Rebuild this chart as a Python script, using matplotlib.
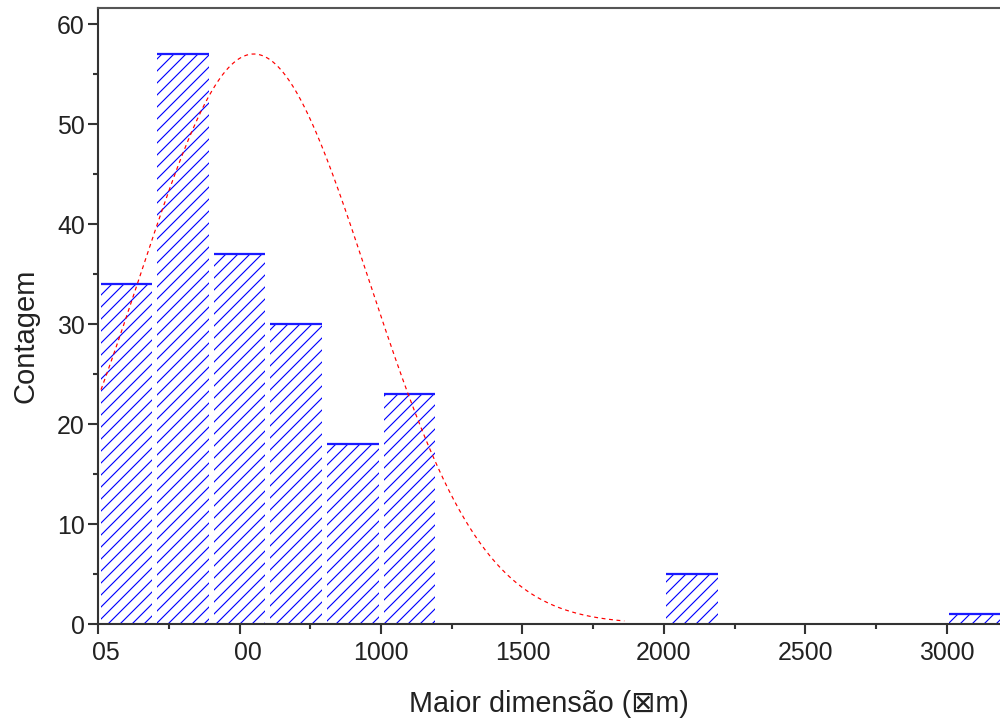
import numpy as np
import matplotlib
matplotlib.use("Agg")
import matplotlib.pyplot as plt
import matplotlib.transforms as mtransforms
from matplotlib.ticker import MultipleLocator

# ---- data ----
bin_centers = [100, 300, 500, 700, 900, 1100, 2100, 3100]
counts = [34, 57, 37, 30, 18, 23, 5, 1]
bin_width = 200
x_ticks = [0, 500, 1000, 1500, 2000, 2500, 3000]
x_tick_labels = ["05", "00", "1000", "1500", "2000", "2500", "3000"]
y_ticks = [0, 10, 20, 30, 40, 50, 60]
# fitted normal curve parameters
fit_amplitude = 57.0
fit_mean = 550.0
fit_sigma = 405.0
fit_start, fit_end = 10, 1860

xlabel_text = "Maior dimensão (\u22a0m)"
ylabel_text = "Contagem"

DPI = 216
plt.rcParams['font.family'] = ['Liberation Sans', 'DejaVu Sans']
plt.rcParams['hatch.linewidth'] = 0.38
plt.rcParams['lines.scale_dashes'] = False

fig = plt.figure(figsize=(1000 / DPI, 725 / DPI), dpi=DPI)
W, H = 1000, 725
left_px, right_px, top_px, bottom_px = 98.2, 1000, 8.3, 624
ax = fig.add_axes([left_px / W, 1 - bottom_px / H, (right_px - left_px) / W,
                   (bottom_px - top_px) / H])

bar_w = bin_width * 0.91
bars = ax.bar(bin_centers, counts, width=bar_w, facecolor='white',
              edgecolor='#0000ff', linewidth=0, hatch='//////', zorder=2)
lefts = [c - bar_w / 2 for c in bin_centers]
rights = [c + bar_w / 2 for c in bin_centers]
ax.hlines(counts, lefts, rights, colors='#1a1aff', linewidth=0.75, zorder=3)

xf = np.linspace(fit_start, fit_end, 400)
yf = fit_amplitude * np.exp(-0.5 * ((xf - fit_mean) / fit_sigma) ** 2)
ax.plot(xf, yf, color='#ff0000', linewidth=0.4, dashes=(1.3, 1.2), zorder=4)

px_per_unit = (946.7 - 381) / 2000
ax.set_xlim(0, (right_px - left_px) / px_per_unit)
ax.set_ylim(0, (bottom_px - top_px) / 10.0)

ax.set_xticks(x_ticks)
ax.set_xticklabels(x_tick_labels)
ax.xaxis.set_minor_locator(MultipleLocator(250))
ax.set_yticks(y_ticks)
ax.yaxis.set_minor_locator(MultipleLocator(5))

spine_col = '#333333'
for s in ['left', 'bottom']:
    ax.spines[s].set_color(spine_col)
    ax.spines[s].set_linewidth(0.7)
ax.spines['top'].set_color('#555555')
ax.spines['top'].set_linewidth(0.7)
ax.spines['right'].set_visible(False)

ax.tick_params(axis='both', which='major', direction='out', length=3.2,
               width=0.7, color=spine_col, labelsize=8.3, labelcolor='#222222')
ax.tick_params(axis='both', which='minor', direction='out', length=1.8,
               width=0.7, color=spine_col)
ax.tick_params(axis='x', which='major', pad=2.6)
ax.tick_params(axis='y', which='major', pad=1.3)
ax.tick_params(top=False, right=False, which='both')

offset = mtransforms.ScaledTranslation(7.8 / DPI, 0, fig.dpi_scale_trans)
for lab in ax.get_xticklabels()[:2]:
    lab.set_transform(lab.get_transform() + offset)

fig.text(549 / W, 1 - 712 / H, xlabel_text, ha='center', va='baseline',
         fontsize=9.6, color='#222222')
fig.text(33.4 / W, 1 - 335.5 / H, ylabel_text, ha='center', va='baseline',
         rotation=90, rotation_mode='anchor', fontsize=9.7, color='#222222')

fig.savefig('out.png', dpi=DPI)
